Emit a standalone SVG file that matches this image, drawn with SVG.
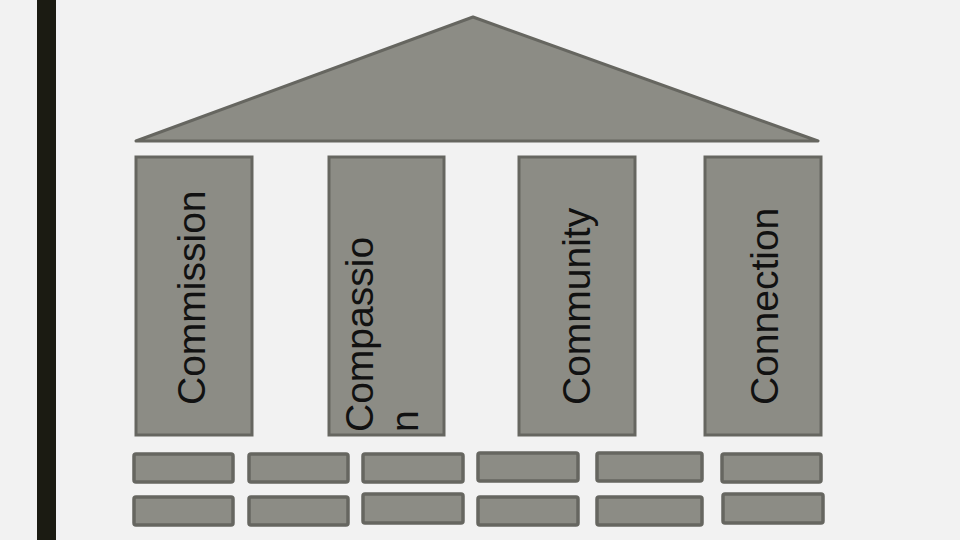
<svg xmlns="http://www.w3.org/2000/svg" width="960" height="540" viewBox="0 0 960 540">
<style>
.shape{fill:#8c8c85;stroke:#666660;stroke-width:3}
.brick{fill:#8c8c85;stroke:#666660;stroke-width:3.5;rx:2}
.lbl{font-family:"Liberation Sans",Arial,sans-serif;font-size:39px;fill:#111}
</style>
<rect x="0" y="0" width="960" height="540" fill="#f2f2f2"/>
<rect x="37" y="0" width="19" height="540" fill="#1b1b12"/>
<g id="roof"><polygon class="shape" points="136,141 473,17 818,141" stroke-linejoin="round"/></g>
<g id="pillar-commission">
<rect class="shape" x="136" y="157" width="116" height="278"/>
<text class="lbl" transform="translate(205,405) rotate(-90)">Commission</text>
</g>
<g id="pillar-compassion">
<rect class="shape" x="329" y="157" width="115" height="278"/>
<text class="lbl" transform="translate(373,432) rotate(-90)">Compassio<tspan x="0" dy="45">n</tspan></text>
</g>
<g id="pillar-community">
<rect class="shape" x="519" y="157" width="116" height="278"/>
<text class="lbl" transform="translate(590,405) rotate(-90)">Community</text>
</g>
<g id="pillar-connection">
<rect class="shape" x="705" y="157" width="116" height="278"/>
<text class="lbl" transform="translate(778,405) rotate(-90)">Connection</text>
</g>
<g id="foundation">
<rect class="brick" x="134" y="454" width="99" height="28"/>
<rect class="brick" x="249" y="454" width="99" height="28"/>
<rect class="brick" x="363" y="454" width="100" height="28"/>
<rect class="brick" x="478" y="453" width="100" height="28"/>
<rect class="brick" x="597" y="453" width="105" height="28"/>
<rect class="brick" x="722" y="454" width="99" height="28"/>
<rect class="brick" x="134" y="497" width="99" height="28"/>
<rect class="brick" x="249" y="497" width="99" height="28"/>
<rect class="brick" x="363" y="494" width="100" height="29"/>
<rect class="brick" x="478" y="497" width="100" height="28"/>
<rect class="brick" x="597" y="497" width="105" height="28"/>
<rect class="brick" x="723" y="494" width="100" height="29"/>
</g>
</svg>
